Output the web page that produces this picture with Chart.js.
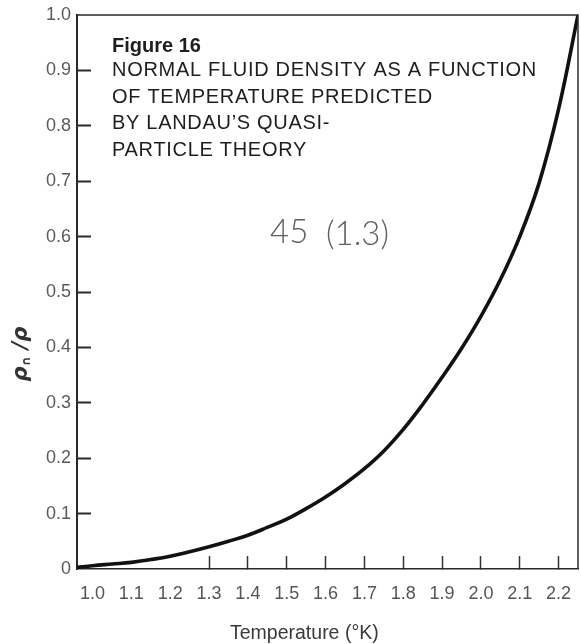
<!DOCTYPE html>
<html>
<head>
<meta charset="utf-8">
<title>Figure 16</title>
<script src="https://cdn.jsdelivr.net/npm/chart.js@4.4.0/dist/chart.umd.min.js"></script>
<style>
body{margin:0;background:#fff;}
canvas{display:block;}
</style>
</head>
<body>
<canvas id="chart" width="581" height="644"></canvas>
<script>
// Temperature (°K) and normal fluid fraction rho_n/rho along the curve
const temps=[0.96,1.0,1.05,1.1,1.15,1.2,1.25,1.3,1.35,1.4,1.45,1.5,1.55,1.6,1.65,1.7,1.75,1.8,1.85,1.9,1.95,2.0,2.05,2.1,2.15,2.2,2.25];
const ratio=[0.003,0.006,0.009,0.012,0.017,0.023,0.031,0.040,0.050,0.061,0.075,0.090,0.109,0.130,0.154,0.181,0.213,0.252,0.297,0.346,0.398,0.456,0.522,0.600,0.697,0.830,1.0];

// tick labels
const xTicks=[1.0,1.1,1.2,1.3,1.4,1.5,1.6,1.7,1.8,1.9,2.0,2.1,2.2];
const yTicks=[0,0.1,0.2,0.3,0.4,0.5,0.6,0.7,0.8,0.9,1.0];

const figureLabel="Figure 16";
const titleLines=["NORMAL FLUID DENSITY AS A FUNCTION","OF TEMPERATURE PREDICTED","BY LANDAU’S QUASI-","PARTICLE THEORY"];
const xTitle="Temperature (°K)";
const pencilNote=["45","(1.3)"];

const sans='"Liberation Sans", Arial, sans-serif';

function spacing(ctx,v){
    if('letterSpacing' in ctx) ctx.letterSpacing=v;
}

// frame edges, caption, axis titles and the pencil note
const annotations={
    id:'annotations',
    afterDraw(chart){
        const ctx=chart.ctx, a=chart.chartArea;
        ctx.save();

        // top and right edges of the box
        ctx.strokeStyle='#2a2a2a';
        ctx.lineWidth=1.5;
        ctx.beginPath();
        ctx.moveTo(a.left,a.top);
        ctx.lineTo(a.right,a.top);
        ctx.lineTo(a.right,a.bottom);
        ctx.stroke();

        // caption block
        ctx.fillStyle='#1e1e1e';
        ctx.textAlign='left';
        ctx.textBaseline='alphabetic';
        ctx.font='bold 20px '+sans;
        ctx.fillText(figureLabel,a.left+35,a.top+37);
        ctx.font='20px '+sans;
        spacing(ctx,'0.7px');
        titleLines.forEach((line,i)=>{
            ctx.fillText(line,a.left+35,a.top+61+i*26.7);
        });
        spacing(ctx,'0px');

        // x axis title
        ctx.fillStyle='#3a3a3a';
        ctx.font='19.5px '+sans;
        ctx.fillText(xTitle,230,639);

        // y axis title: rho_n / rho
        ctx.translate(22,354);
        ctx.rotate(-Math.PI/2);
        ctx.fillStyle='#333';
        const big='italic bold 21px "DejaVu Sans", sans-serif';
        const small='bold 12px "DejaVu Sans", sans-serif';
        ctx.font=big;
        const w1=ctx.measureText('ρ').width;
        const w3=ctx.measureText(' /ρ').width;
        ctx.font=small;
        const w2=ctx.measureText('∩').width;
        let x=-(w1+w2+w3)/2;
        ctx.textBaseline='middle';
        ctx.font=big;
        ctx.fillText('ρ',x,0);
        ctx.font=small;
        ctx.fillText('∩',x+w1,5);
        ctx.font=big;
        ctx.fillText(' /ρ',x+w1+w2,0);
        ctx.restore();

        // pencil note
        ctx.save();
        ctx.fillStyle='#606060';
        ctx.font='300 33px Lato, "Open Sans", sans-serif';
        ctx.textBaseline='alphabetic';
        ctx.fillText(pencilNote[0],270,243);
        ctx.fillText(pencilNote[1],326,245);
        ctx.restore();
    }
};

const points=temps.map((t,i)=>({x:t,y:ratio[i]}));

new Chart(document.getElementById('chart'),{
    type:'line',
    data:{
        datasets:[{
            data:points,
            borderColor:'#111',
            borderWidth:3.6,
            pointRadius:0,
            tension:0.4,
            fill:false
        }]
    },
    options:{
        responsive:false,
        animation:false,
        devicePixelRatio:1,
        layout:{padding:{top:15,right:3,left:0,bottom:0}},
        plugins:{legend:{display:false},tooltip:{enabled:false}},
        scales:{
            x:{
                type:'linear',
                min:0.96,
                max:2.25,
                afterBuildTicks:s=>{s.ticks=xTicks.map(v=>({value:v}));},
                afterFit:s=>{s.height=75;s.paddingLeft=0;s.paddingRight=0;},
                ticks:{
                    callback:v=>v.toFixed(1),
                    font:{family:sans,size:18},
                    color:'#555',
                    padding:27,
                    maxRotation:0,
                    autoSkip:false
                },
                grid:{
                    drawOnChartArea:false,
                    tickLength:-13,
                    tickWidth:1.5,
                    color:c=>c.tick && c.tick.value>1.25 ? '#333' : 'rgba(0,0,0,0)'
                },
                border:{color:'#2a2a2a',width:1.5}
            },
            y:{
                min:0,
                max:1,
                afterBuildTicks:s=>{s.ticks=yTicks.map(v=>({value:v}));},
                afterFit:s=>{s.width=77;s.paddingTop=0;s.paddingBottom=0;},
                ticks:{
                    callback:v=>v===0 ? '0' : v.toFixed(1),
                    font:{family:sans,size:18},
                    color:'#5a5a5a',
                    padding:20,
                    autoSkip:false
                },
                grid:{
                    drawOnChartArea:false,
                    tickLength:-14,
                    tickWidth:2,
                    color:c=>c.tick && c.tick.value>0.05 && c.tick.value<0.95 ? '#2a2a2a' : 'rgba(0,0,0,0)'
                },
                border:{color:'#2a2a2a',width:2}
            }
        }
    },
    plugins:[annotations]
});
</script>
</body>
</html>
